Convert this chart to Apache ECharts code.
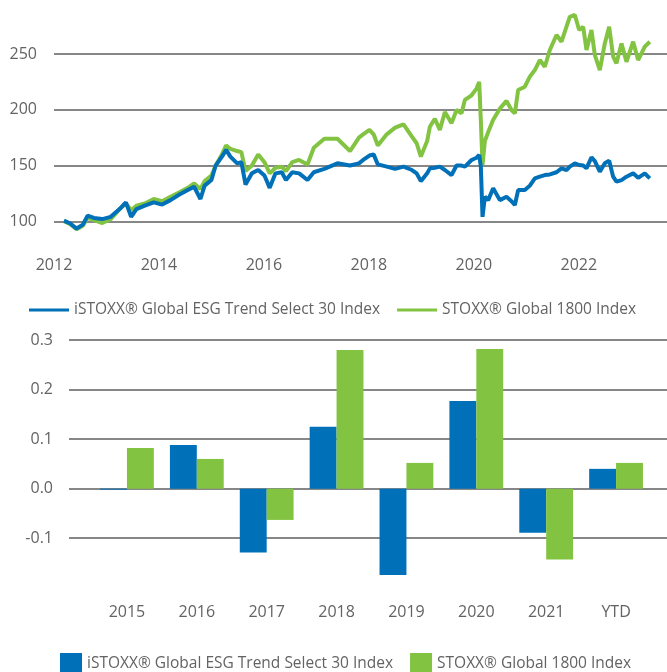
<!DOCTYPE html>
<html>
<head>
<meta charset="utf-8">
<script src="https://cdn.jsdelivr.net/npm/echarts@6/dist/echarts.min.js"></script>
<style>
    html, body { margin: 0; padding: 0; background: #fff; }
    #chart { width: 667px; height: 672px; }
</style>
</head>
<body>
<div id="chart"></div>
<script>
    // index levels, decimal years
    var lineDates = [2012.19, 2012.31, 2012.43, 2012.55, 2012.64, 2012.76, 2012.92, 2013.08, 2013.25, 2013.37,
        2013.47, 2013.57, 2013.73, 2013.90, 2014.06, 2014.22, 2014.39, 2014.55, 2014.67, 2014.79,
        2014.87, 2015.00, 2015.08, 2015.20, 2015.28, 2015.36, 2015.49, 2015.57, 2015.65, 2015.77,
        2015.89, 2016.01, 2016.11, 2016.22, 2016.34, 2016.42, 2016.54, 2016.67, 2016.83, 2016.95,
        2017.15, 2017.40, 2017.64, 2017.81, 2017.89, 2018.01, 2018.09, 2018.17, 2018.34, 2018.50,
        2018.66, 2018.82, 2018.91, 2018.99, 2019.11,
        2019.162, 2019.257, 2019.352, 2019.448, 2019.575, 2019.670, 2019.765, 2019.829, 2019.956, 2020.051,
        2020.102, 2020.133, 2020.165, 2020.210, 2020.273, 2020.368, 2020.495, 2020.622, 2020.717, 2020.781,
        2020.844, 2020.971, 2021.067, 2021.162, 2021.257, 2021.352, 2021.448, 2021.575, 2021.670, 2021.765,
        2021.829, 2021.924, 2022.006, 2022.083, 2022.146, 2022.241, 2022.305, 2022.400, 2022.495, 2022.578,
        2022.654, 2022.717, 2022.813, 2022.908, 2023.035, 2023.130, 2023.257, 2023.352];
    var esgLevels = [100.6, 98, 93.5, 97, 105, 103, 102, 104, 111, 117,
        104, 111, 114, 117, 115, 119, 124, 128, 131, 120,
        132, 137, 150, 158, 164, 158, 152, 153, 133, 143,
        146, 141, 130, 143, 144, 137, 144, 143, 137, 144,
        147, 152, 150, 152, 155, 159, 160, 151, 149, 147,
        149, 146, 143, 136, 143,
        147.5, 148, 149, 146, 141.5, 150, 150, 149, 155, 157,
        159.5, 149, 104, 122, 119, 129.6, 119, 122, 118, 114.6,
        128, 128, 132, 138.5, 140, 141.5, 142, 144, 147.5, 146,
        149, 152, 150.5, 150, 147.5, 157.4, 154, 144.5, 152, 154.4,
        140, 135.6, 137, 140, 143, 139, 143, 138.5];
    var globalLevels = [100.2, 97.5, 93, 96, 103, 101, 98.5, 102, 111, 116,
        110, 114, 116, 120, 118, 122, 126, 130, 134, 129,
        136, 141, 150, 160, 168, 165, 163, 162, 145, 150,
        160, 153, 143, 148, 149, 145, 153, 155, 151, 166,
        174, 174, 163, 175, 178, 182, 178, 168, 178, 184,
        187, 176, 170, 158, 172,
        184.8, 192, 182, 198, 188, 199.8, 196.8, 208.8, 213, 219,
        225, 190, 150.5, 172, 180, 191, 201, 208, 199.8, 196.8,
        217.7, 220.7, 229.7, 235.6, 244.6, 238.6, 253.6, 267, 261, 274.5,
        283.4, 285, 271.5, 274.5, 253.6, 271.5, 249, 235.6, 259.5, 274.5,
        247.6, 241.6, 259.5, 243, 261, 244.6, 256.6, 261];

    // yearly returns
    var barCategories = ['2015', '2016', '2017', '2018', '2019', '2020', '2021', 'YTD'];
    var esgReturns = [-0.002, 0.088, -0.129, 0.125, -0.174, 0.177, -0.089, 0.040];
    var globalReturns = [0.082, 0.060, -0.063, 0.280, 0.052, 0.282, -0.143, 0.052];

    // tick labels
    var yearTicks = [2012, 2014, 2016, 2018, 2020, 2022];
    var levelTicks = [100, 150, 200, 250];
    var returnTicks = [-0.1, 0, 0.1, 0.2, 0.3];

    var esgName = 'iSTOXX® Global ESG Trend Select 30 Index';
    var globalName = 'STOXX® Global 1800 Index';
    var blue = '#0070b8';
    var green = '#82c341';
    var gridColor = '#5f5f5f';
    var labelStyle = { color: '#636363', fontSize: 16, fontFamily: 'Open Sans' };
    var legendText = { color: '#636363', fontSize: 15.5, fontFamily: 'Open Sans' };

    function pairs(xs, ys) {
        var out = [];
        for (var i = 0; i < xs.length; i++) {
            out.push([xs[i], ys[i]]);
        }
        return out;
    }

    var myChart = echarts.init(document.getElementById('chart'));

    var option = {
        animation: false,
        textStyle: { fontFamily: 'Open Sans' },
        legend: [
            {
                left: 24,
                top: 297,
                itemWidth: 40,
                itemHeight: 3,
                itemGap: 17,
                textStyle: legendText,
                data: [{ name: esgName, icon: 'rect' }, { name: globalName, icon: 'rect' }]
            },
            {
                left: 55,
                top: 648,
                itemWidth: 22,
                itemHeight: 22,
                itemGap: 17,
                textStyle: legendText,
                data: [{ name: esgName, icon: 'rect' }, { name: globalName, icon: 'rect' }]
            }
        ],
        grid: [
            { left: 54, right: 0, top: 9.4, bottom: 422.8 },
            { left: 69, right: 0, top: 340, bottom: 84.2 },
            { left: 92, right: 16, top: 340, bottom: 84.2 }
        ],
        xAxis: [
            {
                gridIndex: 0,
                type: 'value',
                min: 2012,
                max: 2023.68,
                interval: 2,
                axisLine: { show: false },
                axisTick: { show: false },
                splitLine: { show: false },
                axisLabel: Object.assign({
                    margin: 8,
                    showMaxLabel: false,
                    formatter: function (v) {
                        return yearTicks.indexOf(Math.round(v)) >= 0 && Math.abs(v - Math.round(v)) < 1e-6 ? String(Math.round(v)) : '';
                    }
                }, labelStyle)
            },
            {
                gridIndex: 1,
                type: 'value',
                show: false
            },
            {
                gridIndex: 2,
                type: 'category',
                data: barCategories,
                axisLine: { show: false },
                axisTick: { show: false },
                axisLabel: Object.assign({ margin: 17 }, labelStyle)
            }
        ],
        yAxis: [
            {
                gridIndex: 0,
                type: 'value',
                min: 75,
                max: 290,
                interval: 25,
                axisLine: { show: false },
                axisTick: { show: false },
                axisLabel: Object.assign({
                    margin: 17,
                    formatter: function (v) {
                        return levelTicks.indexOf(v) >= 0 ? String(v) : '';
                    }
                }, labelStyle),
                splitLine: {
                    lineStyle: {
                        width: 1.5,
                        color: ['transparent', gridColor, 'transparent', gridColor, 'transparent',
                            gridColor, 'transparent', gridColor, 'transparent', 'transparent']
                    }
                }
            },
            {
                gridIndex: 1,
                type: 'value',
                min: -0.2,
                max: 0.3,
                interval: 0.1,
                axisLine: { show: false },
                axisTick: { show: false },
                axisLabel: Object.assign({
                    margin: 16,
                    formatter: function (v) {
                        var r = Math.round(v * 10) / 10;
                        return returnTicks.indexOf(r) >= 0 ? r.toFixed(1) : '';
                    }
                }, labelStyle),
                splitLine: {
                    lineStyle: {
                        width: 1.5,
                        color: ['transparent', gridColor, gridColor, gridColor, gridColor, gridColor]
                    }
                }
            },
            {
                gridIndex: 2,
                type: 'value',
                min: -0.2,
                max: 0.3,
                interval: 0.1,
                show: false,
                splitLine: { show: false }
            }
        ],
        series: [
            {
                name: esgName,
                type: 'line',
                xAxisIndex: 0,
                yAxisIndex: 0,
                showSymbol: false,
                symbol: 'none',
                z: 3,
                lineStyle: { color: blue, width: 4 },
                itemStyle: { color: blue },
                data: pairs(lineDates, esgLevels)
            },
            {
                name: globalName,
                type: 'line',
                xAxisIndex: 0,
                yAxisIndex: 0,
                showSymbol: false,
                symbol: 'none',
                z: 2,
                lineStyle: { color: green, width: 4 },
                itemStyle: { color: green },
                data: pairs(lineDates, globalLevels)
            },
            {
                name: esgName,
                type: 'bar',
                xAxisIndex: 2,
                yAxisIndex: 2,
                barGap: 0,
                barCategoryGap: '23%',
                itemStyle: { color: blue },
                data: esgReturns
            },
            {
                name: globalName,
                type: 'bar',
                xAxisIndex: 2,
                yAxisIndex: 2,
                barGap: 0,
                barCategoryGap: '23%',
                itemStyle: { color: green },
                data: globalReturns
            }
        ]
    };
    myChart.setOption(option);
</script>
</body>
</html>
